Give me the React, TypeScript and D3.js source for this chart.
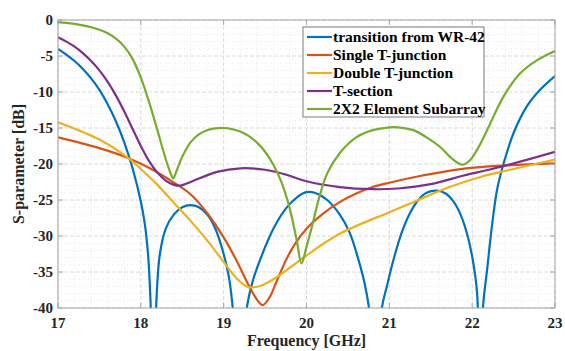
import React from "react";
import * as d3 from "d3";

const xTicks = [17, 18, 19, 20, 21, 22, 23];
const yTicks = [0, -5, -10, -15, -20, -25, -30, -35, -40];

const seriesNames = [
  "transition from WR-42",
  "Single T-junction",
  "Double T-junction",
  "T-section",
  "2X2 Element Subarray",
];
const seriesColors = ["#0072BD", "#D95319", "#EDB120", "#7E2F8E", "#77AC30"];

const blueF = [17.0, 17.1, 17.2, 17.3, 17.4, 17.5, 17.6, 17.7, 17.8, 17.9, 18.0, 18.05, 18.09, 18.12, 18.155, 18.19, 18.23, 18.3, 18.4, 18.5, 18.6, 18.7, 18.8, 18.9, 19.0, 19.06, 19.11, 19.2, 19.28, 19.35, 19.45, 19.6, 19.75, 19.9, 20.0, 20.1, 20.25, 20.4, 20.52, 20.62, 20.7, 20.76, 20.83, 20.91, 20.97, 21.05, 21.15, 21.25, 21.35, 21.45, 21.58, 21.68, 21.78, 21.87, 21.95, 22.01, 22.06, 22.095, 22.13, 22.18, 22.24, 22.3, 22.38, 22.5, 22.66, 22.82, 23.0];
const blueS = [-4.0, -4.8, -5.7, -6.8, -8.1, -9.7, -11.7, -14.1, -17.0, -20.6, -25.2, -28.5, -33.0, -40.0, -55, -38.5, -32.5, -29.0, -27.0, -26.0, -25.7, -26.0, -27.0, -29.0, -32.5, -35.5, -40.0, -55, -40.0, -36.3, -33.0, -29.0, -26.2, -24.5, -23.9, -24.0, -25.0, -27.0, -29.5, -33.0, -36.5, -40.5, -55, -40.0, -37.0, -33.3, -29.5, -26.8, -25.0, -24.0, -23.7, -24.1, -25.3, -27.3, -30.2, -33.5, -38.0, -55, -40.0, -34.7, -28.5, -23.6, -19.9, -15.7, -12.0, -9.7, -7.8];

const redF = [17.0, 17.5, 17.83, 18.11, 18.4, 18.6, 18.8, 19.0, 19.15, 19.3, 19.4, 19.47, 19.55, 19.65, 19.75, 19.85, 20.0, 20.2, 20.4, 20.6, 20.8, 21.0, 21.4, 21.86, 22.4, 23.0];
const redS = [-16.3, -17.8, -19.1, -20.6, -22.6, -24.2, -26.8, -30.2, -33.3, -36.8, -38.8, -39.6, -38.6, -36.0, -33.4, -31.3, -29.0, -26.9, -25.3, -24.1, -23.2, -22.6, -21.6, -20.7, -20.2, -19.9];

const orangeF = [17.0, 17.5, 17.83, 18.0, 18.2, 18.4, 18.6, 18.8, 19.0, 19.15, 19.3, 19.45, 19.6, 19.8, 20.0, 20.4, 21.0, 21.29, 21.7, 22.1, 22.5, 23.0];
const orangeS = [-14.2, -16.6, -19.0, -20.7, -22.9, -25.4, -27.9, -30.6, -33.6, -35.8, -37.1, -36.9, -36.0, -34.4, -32.7, -29.7, -26.7, -25.3, -23.3, -21.8, -20.7, -19.4];

const purpleF = [17.0, 17.1, 17.2, 17.3, 17.4, 17.5, 17.6, 17.7, 17.8, 17.9, 18.0, 18.1, 18.2, 18.3, 18.4, 18.48, 18.6, 18.92, 19.2, 19.5, 19.76, 20.0, 20.4, 20.8, 21.1, 21.5, 21.9, 22.2, 22.6, 23.0];
const purpleS = [-2.4, -3.0, -3.7, -4.6, -5.7, -7.0, -8.6, -10.5, -12.7, -15.1, -17.5, -19.6, -21.2, -22.3, -22.9, -23.0, -22.5, -21.1, -20.6, -20.8, -21.5, -22.4, -23.2, -23.5, -23.4, -22.8, -21.6, -20.8, -19.6, -18.3];

const greenF = [17.0, 17.1, 17.2, 17.3, 17.4, 17.5, 17.6, 17.7, 17.8, 17.9, 18.0, 18.1, 18.2, 18.3, 18.36, 18.39, 18.43, 18.5, 18.6, 18.7, 18.8, 18.9, 19.0, 19.1, 19.2, 19.3, 19.4, 19.5, 19.6, 19.7, 19.8, 19.88, 19.94, 20.0, 20.07, 20.15, 20.25, 20.4, 20.6, 20.8, 21.0, 21.1, 21.29, 21.45, 21.61, 21.75, 21.88, 21.98, 22.08, 22.18, 22.38, 22.58, 22.78, 23.0];
const greenS = [-0.3, -0.4, -0.55, -0.75, -1.0, -1.35, -1.85, -2.6, -3.7, -5.4, -8.0, -11.4, -15.3, -19.3, -21.3, -22.0, -21.0, -19.0, -17.0, -15.9, -15.3, -15.05, -15.0, -15.15, -15.5, -16.1, -17.0, -18.3, -20.1, -22.6, -26.3, -30.5, -33.8, -31.5, -28.5, -24.8, -21.3, -18.5, -16.3, -15.3, -14.9, -14.9, -15.3, -16.3, -17.6, -19.2, -20.1, -19.4, -17.6, -15.3, -10.6, -7.4, -5.6, -4.3];

const seriesF = [blueF, redF, orangeF, purpleF, greenF];
const seriesS = [blueS, redS, orangeS, purpleS, greenS];

const W = 565;
const H = 351;
const L = 58;
const R = 555;
const T = 20;
const B = 308;
const FONT = "Liberation Serif";

export default function App() {
  const x = d3.scaleLinear().domain([17, 23]).range([L, R]);
  const y = d3.scaleLinear().domain([-40, 0]).range([B, T]);

  const minorX = d3.range(17, 23.0001, 0.2).filter((v) => Math.abs(v - Math.round(v)) > 1e-6);
  const minorY = d3.range(-40, 0.0001, 1).filter((v) => Math.abs(v % 5) > 1e-6);

  const line = d3
    .line<[number, number]>()
    .x((d) => x(d[0]))
    .y((d) => y(d[1]))
    .curve(d3.curveCatmullRom.alpha(0.5));

  const legX = 303;
  const legY = 27;
  const legW = 181;
  const legH = 90;
  const txt = { fontFamily: FONT, fontWeight: 700 as const };

  return (
    <svg width={W} height={H} style={{ position: "absolute", left: 0, top: 0, background: "#fff" }}>
      <defs>
        <clipPath id="plotclip">
          <rect x={L} y={T} width={R - L} height={B - T} />
        </clipPath>
      </defs>
      <rect x={L} y={T} width={R - L} height={B - T} fill="#fff" />
      {minorX.map((v, i) => (
        <line key={"mx" + i} x1={x(v)} x2={x(v)} y1={T} y2={B} stroke="#e4e4e4" strokeWidth={0.8} strokeDasharray="1,2" />
      ))}
      {minorY.map((v, i) => (
        <line key={"my" + i} x1={L} x2={R} y1={y(v)} y2={y(v)} stroke="#e4e4e4" strokeWidth={0.8} strokeDasharray="1,2" />
      ))}
      {xTicks.map((v, i) => (
        <line key={"gx" + i} x1={x(v)} x2={x(v)} y1={T} y2={B} stroke="#d6d6d6" strokeWidth={0.9} strokeDasharray="4,2" />
      ))}
      {yTicks.map((v, i) => (
        <line key={"gy" + i} x1={L} x2={R} y1={y(v)} y2={y(v)} stroke="#d6d6d6" strokeWidth={0.9} strokeDasharray="4,2" />
      ))}
      <g clipPath="url(#plotclip)">
        {seriesF.map((fs, si) => {
          const pts: [number, number][] = fs.map((f, k) => [f, seriesS[si][k]]);
          return (
            <path key={"s" + si} d={line(pts) || ""} fill="none" stroke={seriesColors[si]} strokeWidth={2.2} strokeLinejoin="round" />
          );
        })}
      </g>
      <rect x={L} y={T} width={R - L} height={B - T} fill="none" stroke="#a6a6a6" strokeWidth={1} />
      {xTicks.map((v, i) => (
        <g key={"tx" + i}>
          <line x1={x(v)} x2={x(v)} y1={B} y2={B - 5} stroke="#a6a6a6" />
          <line x1={x(v)} x2={x(v)} y1={T} y2={T + 5} stroke="#a6a6a6" />
          <text x={x(v)} y={B + 20} textAnchor="middle" fontSize={15} fill="#262626" style={txt}>
            {v}
          </text>
        </g>
      ))}
      {yTicks.map((v, i) => (
        <g key={"ty" + i}>
          <line x1={L} x2={L + 5} y1={y(v)} y2={y(v)} stroke="#a6a6a6" />
          <line x1={R} x2={R - 5} y1={y(v)} y2={y(v)} stroke="#a6a6a6" />
          <text x={L - 5} y={y(v) + 5} textAnchor="end" fontSize={15} fill="#262626" style={txt}>
            {v}
          </text>
        </g>
      ))}
      <text x={(L + R) / 2} y={346} textAnchor="middle" fontSize={16} fill="#262626" style={txt}>
        Frequency [GHz]
      </text>
      <text
        transform={`translate(24, ${(T + B) / 2}) rotate(-90)`}
        textAnchor="middle"
        fontSize={16}
        fill="#262626"
        style={txt}
      >
        S-parameter [dB]
      </text>
      <rect x={legX} y={legY} width={legW} height={legH} fill="#fff" stroke="#7a7a7a" strokeWidth={1} />
      {seriesNames.map((n, i) => {
        const ly = legY + 10 + i * 18;
        return (
          <g key={"l" + i}>
            <line x1={legX + 4} x2={legX + 29} y1={ly} y2={ly} stroke={seriesColors[i]} strokeWidth={2.2} />
            <text x={legX + 30} y={ly + 5} fontSize={15.5} fill="#000" style={txt}>
              {n}
            </text>
          </g>
        );
      })}
    </svg>
  );
}
